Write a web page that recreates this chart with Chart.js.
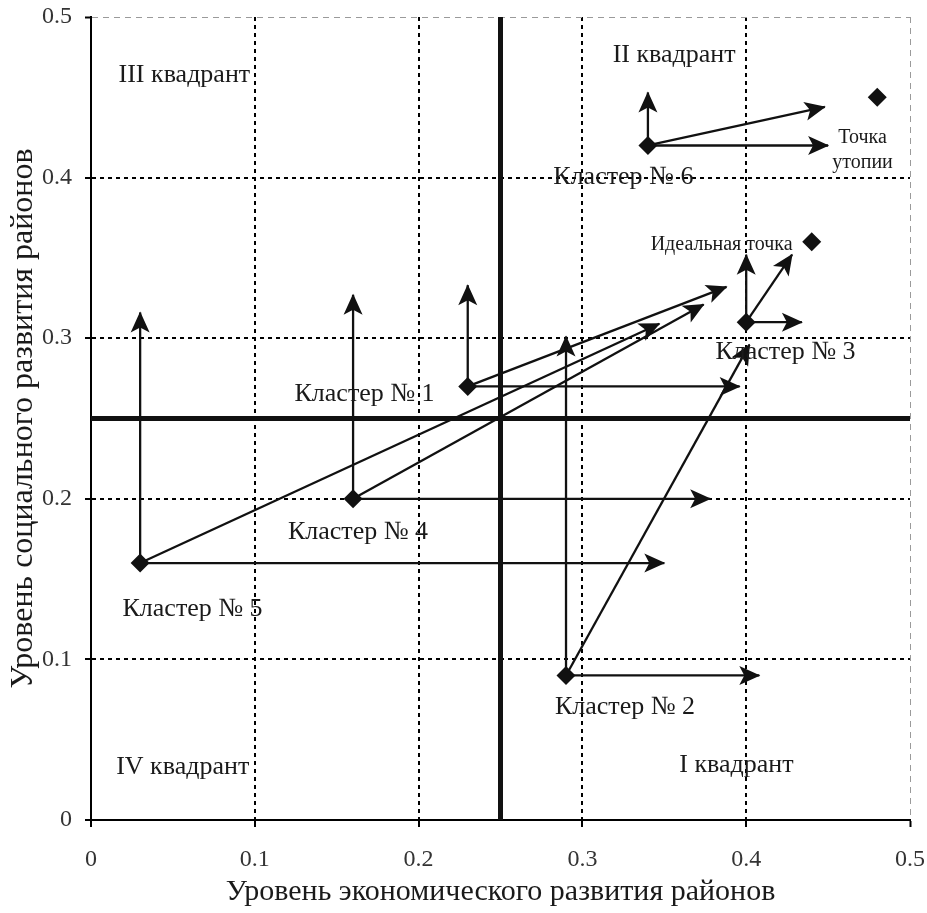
<!DOCTYPE html>
<html>
<head>
<meta charset="utf-8">
<script src="https://cdn.jsdelivr.net/npm/chart.js@4.4.0/dist/chart.umd.min.js"></script>
<style>
  body { margin: 0; background: #fff; }
  #wrap { width: 927px; height: 913px; }
</style>
</head>
<body>
<div id="wrap"><canvas id="oi"></canvas></div>
<script>
// clusters (x = экономика, y = социальная сфера)
const clusterNames = ['Кластер № 1', 'Кластер № 2', 'Кластер № 3', 'Кластер № 4', 'Кластер № 5', 'Кластер № 6'];
const clusterX = [0.23, 0.29, 0.40, 0.16, 0.03, 0.34];
const clusterY = [0.27, 0.09, 0.31, 0.20, 0.16, 0.42];

// arrow ends
const upEndY    = [0.333, 0.301, 0.352, 0.327, 0.316, 0.453];
const rightEndX = [0.396, 0.408, 0.434, 0.378, 0.350, 0.450];
const diagEndX  = [0.388, 0.402, 0.428, 0.374, 0.347, 0.448];
const diagEndY  = [0.332, 0.296, 0.352, 0.321, 0.309, 0.444];

// target points
const targetNames = ['Точка утопии', 'Идеальная точка'];
const targetX = [0.48, 0.44];
const targetY = [0.45, 0.36];

const quadrantSplit = 0.25;
const axisMin = 0;
const axisMax = 0.5;
const tickValues = [0, 0.1, 0.2, 0.3, 0.4, 0.5];

const SERIF = '"Liberation Serif", "DejaVu Serif", serif';

// text placed in data coordinates
const notes = [
  { text: 'III квадрант', x: 0.057, y: 0.464, size: 26 },
  { text: 'II квадрант', x: 0.356, y: 0.476, size: 26 },
  { text: 'IV квадрант', x: 0.056, y: 0.033, size: 26 },
  { text: 'I квадрант', x: 0.394, y: 0.034, size: 26 },
  { text: clusterNames[0], x: 0.167, y: 0.265, size: 26 },
  { text: clusterNames[1], x: 0.326, y: 0.070, size: 26 },
  { text: clusterNames[2], x: 0.424, y: 0.291, size: 26 },
  { text: clusterNames[3], x: 0.163, y: 0.179, size: 26 },
  { text: clusterNames[4], x: 0.062, y: 0.131, size: 26 },
  { text: clusterNames[5], x: 0.325, y: 0.400, size: 26 },
  { text: 'Точка', x: 0.471, y: 0.425, size: 20 },
  { text: 'утопии', x: 0.471, y: 0.409, size: 20 },
  { text: targetNames[1], x: 0.385, y: 0.358, size: 20 }
];

const datasets = [];

datasets.push({
  data: clusterX.map((x, i) => ({ x: x, y: clusterY[i] }))
    .concat(targetX.map((x, i) => ({ x: x, y: targetY[i] }))),
  pointStyle: 'rectRot',
  pointRadius: 9.5,
  backgroundColor: '#111',
  borderColor: '#111',
  borderWidth: 0,
  showLine: false
});

function arrowSet(x1, y1, x2, y2) {
  return {
    data: [{ x: x1, y: y1 }, { x: x2, y: y2 }],
    showLine: true,
    borderColor: '#111',
    borderWidth: 2.3,
    pointRadius: 0,
    arrow: true
  };
}

clusterX.forEach((x, i) => {
  const y = clusterY[i];
  datasets.push(arrowSet(x, y, x, upEndY[i]));
  datasets.push(arrowSet(x, y, rightEndX[i], y));
  datasets.push(arrowSet(x, y, diagEndX[i], diagEndY[i]));
});

// quadrant split lines
datasets.push({
  data: [{ x: quadrantSplit, y: axisMin }, { x: quadrantSplit, y: axisMax }],
  showLine: true, borderColor: '#111', borderWidth: 5, pointRadius: 0
});
datasets.push({
  data: [{ x: axisMin, y: quadrantSplit }, { x: axisMax, y: quadrantSplit }],
  showLine: true, borderColor: '#111', borderWidth: 5, pointRadius: 0
});

const arrowHeads = {
  id: 'arrowHeads',
  afterDatasetsDraw(chart) {
    const ctx = chart.ctx;
    chart.data.datasets.forEach((ds, i) => {
      if (!ds.arrow) return;
      const pts = chart.getDatasetMeta(i).data;
      const a = pts[0], b = pts[1];
      const ang = Math.atan2(b.y - a.y, b.x - a.x);
      ctx.save();
      ctx.translate(b.x, b.y);
      ctx.rotate(ang);
      ctx.beginPath();
      ctx.moveTo(1, 0);
      ctx.lineTo(-20, -9.5);
      ctx.lineTo(-15, 0);
      ctx.lineTo(-20, 9.5);
      ctx.closePath();
      ctx.fillStyle = '#111';
      ctx.fill();
      ctx.restore();
    });
    // texts
    const xs = chart.scales.x, ys = chart.scales.y;
    ctx.save();
    ctx.fillStyle = '#1a1a1a';
    ctx.textAlign = 'center';
    ctx.textBaseline = 'middle';
    notes.forEach(n => {
      ctx.font = n.size + 'px ' + SERIF;
      ctx.fillText(n.text, xs.getPixelForValue(n.x), ys.getPixelForValue(n.y));
    });
    ctx.restore();
  }
};

function gridColor(c) {
  if (!c.tick) return '#000';
  if (c.tick.value >= axisMax) return '#9a9a9a';
  if (c.tick.value <= axisMin) return 'rgba(0,0,0,0)';
  return '#000';
}
function gridWidth(c) {
  return c.tick && c.tick.value >= axisMax ? 1 : 2;
}
function gridDash(c) {
  if (!c.tick) return [];
  return c.tick.value >= axisMax ? [6, 5] : [4, 4];
}
function fmt(v) {
  return String(Math.round(v * 10) / 10);
}

const config = {
  type: 'scatter',
  data: { datasets: datasets },
  plugins: [arrowHeads],
  options: {
    responsive: true,
    maintainAspectRatio: false,
    animation: false,
    layout: { padding: { top: 17, right: 17, left: 0, bottom: 0 } },
    plugins: {
      legend: { display: false },
      tooltip: { enabled: false }
    },
    scales: {
      x: {
        type: 'linear',
        min: axisMin,
        max: axisMax,
        afterBuildTicks: s => { s.ticks = tickValues.map(v => ({ value: v })); },
        afterFit: s => { s.height = 93; s.paddingLeft = 0; s.paddingRight = 0; },
        ticks: {
          callback: fmt,
          color: '#333',
          font: { family: SERIF, size: 24 },
          padding: 18,
          maxRotation: 0
        },
        grid: {
          color: gridColor,
          lineWidth: gridWidth,
          tickColor: '#000',
          tickWidth: 2,
          tickLength: 7,
          tickBorderDash: []
        },
        border: { display: true, color: '#000', width: 2, dash: gridDash },
        title: {
          display: true,
          text: 'Уровень экономического развития районов',
          color: '#1a1a1a',
          font: { family: SERIF, size: 30 },
          padding: { top: 0, bottom: 3 }
        }
      },
      y: {
        type: 'linear',
        min: axisMin,
        max: axisMax,
        afterBuildTicks: s => { s.ticks = tickValues.map(v => ({ value: v })); },
        afterFit: s => { s.width = 91; s.paddingTop = 0; s.paddingBottom = 0; },
        ticks: {
          callback: fmt,
          color: '#333',
          font: { family: SERIF, size: 24 },
          padding: 13
        },
        grid: {
          color: gridColor,
          lineWidth: gridWidth,
          tickColor: '#000',
          tickWidth: 2,
          tickLength: 6,
          tickBorderDash: []
        },
        border: { display: true, color: '#000', width: 2, dash: gridDash },
        title: {
          display: true,
          text: 'Уровень социального развития районов',
          color: '#1a1a1a',
          font: { family: SERIF, size: 32 },
          padding: { top: 4, bottom: 0 }
        }
      }
    }
  }
};

const chart = new Chart(document.getElementById('oi'), config);
</script>
</body>
</html>
